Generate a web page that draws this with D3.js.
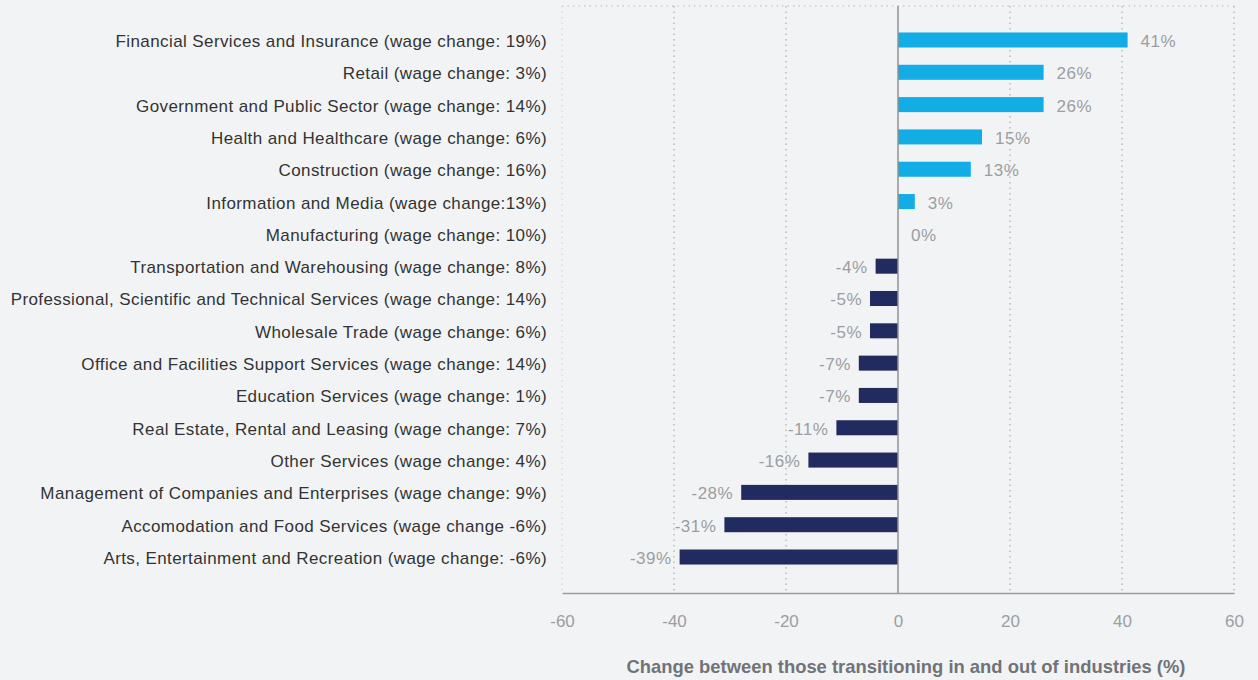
<!DOCTYPE html>
<html>
<head>
<meta charset="utf-8">
<script src="https://cdn.jsdelivr.net/npm/d3@7"></script>
<style>
  body { margin: 0; background: #f2f3f5; }
  svg { display: block; font-family: "Liberation Sans", Arial, sans-serif; }
</style>
</head>
<body>
<svg id="chart"></svg>
<script>
// industries, top to bottom
var categories = [
  "Financial Services and Insurance (wage change: 19%)",
  "Retail (wage change: 3%)",
  "Government and Public Sector (wage change: 14%)",
  "Health and Healthcare (wage change: 6%)",
  "Construction (wage change: 16%)",
  "Information and Media (wage change:13%)",
  "Manufacturing (wage change: 10%)",
  "Transportation and Warehousing (wage change: 8%)",
  "Professional, Scientific and Technical Services (wage change: 14%)",
  "Wholesale Trade (wage change: 6%)",
  "Office and Facilities Support Services (wage change: 14%)",
  "Education Services (wage change: 1%)",
  "Real Estate, Rental and Leasing (wage change: 7%)",
  "Other Services (wage change: 4%)",
  "Management of Companies and Enterprises (wage change: 9%)",
  "Accomodation and Food Services (wage change -6%)",
  "Arts, Entertainment and Recreation (wage change: -6%)"
];
var values = [41, 26, 26, 15, 13, 3, 0, -4, -5, -5, -7, -7, -11, -16, -28, -31, -39];
var xTicks = [-60, -40, -20, 0, 20, 40, 60];
var axisTitle = "Change between those transitioning in and out of industries (%)";

var W = 1258, H = 680;
var pLeft = 562, pRight = 1234, pTop = 6, pBottom = 593;

var svg = d3.select("#chart").attr("width", W).attr("height", H);

var x = d3.scaleLinear().domain([-60, 60]).range([pLeft, pRight]);
var y = d3.scaleBand().domain(categories).range([pTop - 1, pBottom - 1])
  .paddingInner(0.535).paddingOuter(0.85);

// grid
svg.append("line")
  .attr("x1", pLeft).attr("x2", pRight).attr("y1", pTop).attr("y2", pTop)
  .attr("stroke", "#b9bcc1").attr("stroke-width", 1.2).attr("stroke-dasharray", "1.5,4");
svg.selectAll(".grid").data(xTicks.filter(function (d) { return d !== 0; }))
  .enter().append("line")
  .attr("x1", function (d) { return x(d); }).attr("x2", function (d) { return x(d); })
  .attr("y1", pTop).attr("y2", pBottom)
  .attr("stroke", function (d) { return d === -60 ? "#d3d5d9" : "#a9acb1"; })
  .attr("stroke-width", 1.2).attr("stroke-dasharray", "1.5,4");

// bars
svg.selectAll(".bar").data(values).enter().append("rect")
  .attr("x", function (d) { return x(Math.min(0, d)); })
  .attr("y", function (d, i) { return y(categories[i]); })
  .attr("width", function (d) { return Math.abs(x(d) - x(0)); })
  .attr("height", y.bandwidth())
  .attr("fill", function (d) { return d >= 0 ? "#11ade4" : "#222b5f"; });

// zero line and bottom axis
svg.append("line")
  .attr("x1", x(0)).attr("x2", x(0)).attr("y1", pTop).attr("y2", pBottom)
  .attr("stroke", "#8f9296").attr("stroke-width", 1.5);

var xAxis = svg.append("g").attr("transform", "translate(0," + pBottom + ")")
  .call(d3.axisBottom(x).tickValues(xTicks).tickSize(0).tickPadding(22)
    .tickFormat(function (d) { return String(d); }));
xAxis.select(".domain").attr("stroke", "#9a9da1").attr("stroke-width", 1.5);
xAxis.selectAll("text").attr("fill", "#9b9ea2").attr("font-size", 17)
  .attr("font-family", "'Liberation Sans', Arial, sans-serif");

// category labels
svg.selectAll(".cat").data(categories).enter().append("text")
  .attr("x", 547)
  .attr("y", function (d) { return y(d) + y.bandwidth() / 2 + 1; })
  .attr("dy", "0.35em")
  .attr("text-anchor", "end")
  .attr("font-size", 17)
  .attr("letter-spacing", 0.4)
  .attr("fill", "#333")
  .text(function (d) { return d; });

// value labels
svg.selectAll(".val").data(values).enter().append("text")
  .attr("x", function (d) { return d >= 0 ? x(d) + 13 : x(d) - 8; })
  .attr("y", function (d, i) { return y(categories[i]) + y.bandwidth() / 2 + 1; })
  .attr("dy", "0.35em")
  .attr("text-anchor", function (d) { return d >= 0 ? "start" : "end"; })
  .attr("font-size", 17)
  .attr("letter-spacing", 0.5)
  .attr("fill", "#9b9ea2")
  .text(function (d) { return d + "%"; });

// axis title
svg.append("text")
  .attr("x", x(0) + 8).attr("y", 667).attr("dy", "0.35em")
  .attr("text-anchor", "middle")
  .attr("font-weight", "bold").attr("font-size", 18.4)
  .attr("fill", "#707377")
  .text(axisTitle);
</script>
</body>
</html>
